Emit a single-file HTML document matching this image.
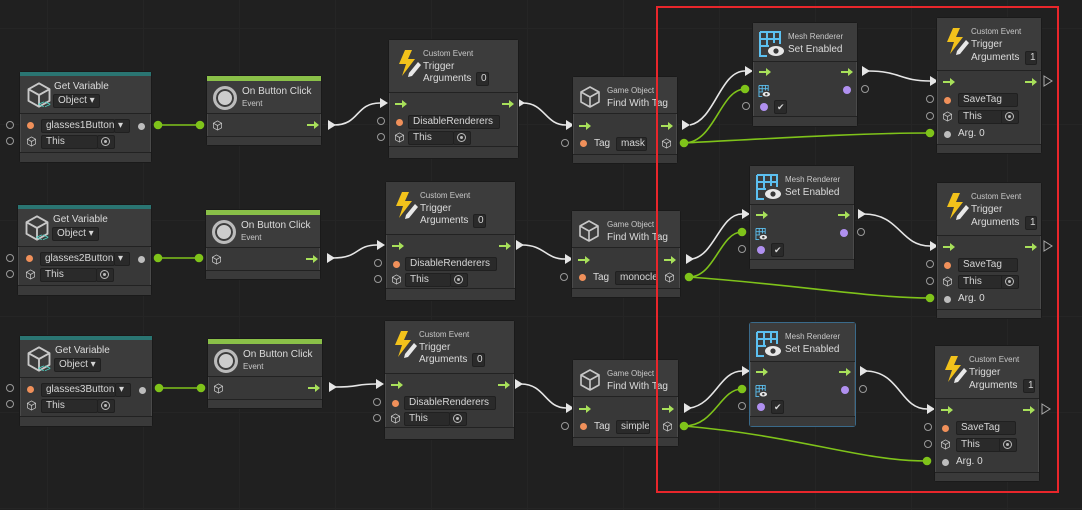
<!DOCTYPE html>
<html><head><meta charset="utf-8">
<style>
*{margin:0;padding:0;box-sizing:border-box}
body{width:1082px;height:510px;overflow:hidden;background:#202020;font-family:"Liberation Sans",sans-serif;color:#d2d2d2;position:relative;
background-image:linear-gradient(#252525 1px,transparent 1px),linear-gradient(90deg,#252525 1px,transparent 1px);background-size:96px 96px;background-position:47px 28px}
.n{position:absolute;background:#383838;border:1px solid #1a1a1a;border-radius:3px;box-shadow:0 0 0 1px #4a4a4a inset}
.n *{position:absolute}
.hd{left:0;right:0;top:0;background:#3c3c3c;border-bottom:1px solid #222}
.ft{left:0;right:0;bottom:0;background:#3a3a3a;border-top:1px solid #222}
.bar{left:0;right:0;top:0}
.t8{font-size:8px;color:#c8c8c8;white-space:nowrap}
.t10{font-size:10px;color:#dcdcdc;white-space:nowrap}
.f{background:#2a2a2a;border:1px solid #202020;font-size:10px;color:#d6d6d6;height:14px;line-height:12px;padding-left:4px;white-space:nowrap;overflow:hidden;border-radius:2px}
.od{width:7px;height:7px;border-radius:50%;background:#f0905a}
.gd{width:7px;height:7px;border-radius:50%;background:#bdbdbd}
.pd{width:8px;height:8px;border-radius:50%;background:#b090f0}
.ho{position:absolute;width:8px;height:8px;border-radius:50%;border:1px solid #999}
.ar{width:12px;height:8px}
.tg{width:9px;height:9px;border:1px solid #bbb;border-radius:50%}
.tg:after{content:"";position:absolute;left:2px;top:2px;width:3px;height:3px;border-radius:50%;background:#bbb}
.red{position:absolute;left:656px;top:6px;width:403px;height:487px;border:2px solid #e8262b}
</style></head><body>
<svg width="0" height="0" style="position:absolute">
<defs>
<symbol id="cube" viewBox="0 0 24 24"><path d="M12 2 L21 7 L21 17 L12 22 L3 17 L3 7 Z M3 7 L12 12 L21 7 M12 12 L12 22" fill="none" stroke="#c8c8c8" stroke-width="1.6" stroke-linejoin="round"/></symbol>
<symbol id="arr" viewBox="0 0 12 8"><path d="M0 3 H7 V0 L12 4 L7 8 V5 H0 Z" fill="#a8e05a"/></symbol>
<symbol id="bolt" viewBox="0 0 26 28"><path d="M9 1 L3 15 L10 15 L6 27 L19 10 L12 10 L16 1 Z" fill="#f2c21b"/><path d="M13 24 L22 13 L25 16 L16 27 L12 28 Z" fill="#e8e8e8"/></symbol>
<symbol id="mesh" viewBox="0 0 26 26"><path d="M1 1 H21 V13 M1 1 V25 H8 M1 8 H21 M1 15 H10 M8 1 V15 M15 1 V12" fill="none" stroke="#5cc0f0" stroke-width="2"/><ellipse cx="17" cy="20" rx="8" ry="5" fill="#e8e8e8"/><circle cx="17" cy="20" r="2.6" fill="#383838"/></symbol>
</defs></svg>

<svg width="1082" height="510" style="position:absolute;left:0;top:0" fill="none">
<g stroke="#7fc31a" stroke-width="1.6">
<path d="M158 125 H200"/><circle cx="158" cy="125" r="3.5" fill="#7fc31a"/><circle cx="200" cy="125" r="3.5" fill="#7fc31a"/>
<path d="M158 258 H199"/><circle cx="158" cy="258" r="3.5" fill="#7fc31a"/><circle cx="199" cy="258" r="3.5" fill="#7fc31a"/>
<path d="M159 388 H201"/><circle cx="159" cy="388" r="3.5" fill="#7fc31a"/><circle cx="201" cy="388" r="3.5" fill="#7fc31a"/>
<path d="M684 143 C715 143,720 89,745 89"/><path d="M684 143 C780 138,860 133,930 133"/>
<circle cx="684" cy="143" r="3.5" fill="#7fc31a"/><circle cx="745" cy="89" r="3.5" fill="#7fc31a"/><circle cx="930" cy="133" r="3.5" fill="#7fc31a"/>
<path d="M689 277 C715 277,720 232,742 232"/><path d="M689 277 C800 285,870 298,930 298"/>
<circle cx="689" cy="277" r="3.5" fill="#7fc31a"/><circle cx="742" cy="232" r="3.5" fill="#7fc31a"/><circle cx="930" cy="298" r="3.5" fill="#7fc31a"/>
<path d="M684 426 C715 426,720 389,742 389"/><path d="M684 426 C800 436,860 461,927 461"/>
<circle cx="684" cy="426" r="3.5" fill="#7fc31a"/><circle cx="742" cy="389" r="3.5" fill="#7fc31a"/><circle cx="927" cy="461" r="3.5" fill="#7fc31a"/>
</g>
<g stroke="#e6e6e6" stroke-width="1.6">
<path d="M334 125 C360 125,355 103,380 103"/><path d="M523 103 C545 103,545 125,566 125"/>
<path d="M690 125 C715 120,720 71,745 71"/><path d="M868 71 C900 71,900 81,930 81"/>
<path d="M333 258 C360 258,355 245,377 245"/><path d="M522 245 C545 245,545 259,565 259"/>
<path d="M692 259 C715 255,720 214,742 214"/><path d="M864 214 C900 214,900 246,930 246"/>
<path d="M335 387 C360 387,355 384,376 384"/><path d="M521 384 C545 384,545 408,566 408"/>
<path d="M690 408 C715 404,720 371,742 371"/><path d="M865 371 C900 371,900 409,927 409"/>
</g>
<g fill="#e6e6e6">
<path d="M328 120 L336 125 L328 130Z"/><path d="M380 98 L388 103 L380 108Z"/><path d="M517 98 L525 103 L517 108Z"/><path d="M566 120 L574 125 L566 130Z"/><path d="M682 120 L690 125 L682 130Z"/><path d="M745 66 L753 71 L745 76Z"/><path d="M862 66 L870 71 L862 76Z"/><path d="M930 76 L938 81 L930 86Z"/>
<path d="M327 253 L335 258 L327 263Z"/><path d="M377 240 L385 245 L377 250Z"/><path d="M516 240 L524 245 L516 250Z"/><path d="M565 254 L573 259 L565 264Z"/><path d="M686 254 L694 259 L686 264Z"/><path d="M742 209 L750 214 L742 219Z"/><path d="M858 209 L866 214 L858 219Z"/><path d="M930 241 L938 246 L930 251Z"/>
<path d="M329 382 L337 387 L329 392Z"/><path d="M376 379 L384 384 L376 389Z"/><path d="M515 379 L523 384 L515 389Z"/><path d="M566 403 L574 408 L566 413Z"/><path d="M684 403 L692 408 L684 413Z"/><path d="M742 366 L750 371 L742 376Z"/><path d="M860 366 L868 371 L860 376Z"/><path d="M927 404 L935 409 L927 414Z"/>
</g>
<g stroke="#aaa" stroke-width="1"><path d="M1044 76 L1052 81 L1044 86Z"/><path d="M1044 241 L1052 246 L1044 251Z"/><path d="M1042 404 L1050 409 L1042 414Z"/></g>
</svg>

<div class="ho" style="left:6px;top:121px"></div><div class="ho" style="left:6px;top:137px"></div>
<div class="ho" style="left:6px;top:254px"></div><div class="ho" style="left:6px;top:270px"></div>
<div class="ho" style="left:6px;top:384px"></div><div class="ho" style="left:6px;top:400px"></div>
<div class="ho" style="left:377px;top:117px"></div><div class="ho" style="left:377px;top:133px"></div>
<div class="ho" style="left:374px;top:259px"></div><div class="ho" style="left:374px;top:275px"></div>
<div class="ho" style="left:373px;top:398px"></div><div class="ho" style="left:373px;top:414px"></div>
<div class="ho" style="left:561px;top:139px"></div><div class="ho" style="left:560px;top:273px"></div><div class="ho" style="left:561px;top:422px"></div>
<div class="ho" style="left:742px;top:102px"></div><div class="ho" style="left:738px;top:245px"></div><div class="ho" style="left:738px;top:402px"></div>
<div class="ho" style="left:861px;top:85px"></div><div class="ho" style="left:857px;top:228px"></div><div class="ho" style="left:859px;top:385px"></div>
<div class="ho" style="left:926px;top:95px"></div><div class="ho" style="left:926px;top:112px"></div>
<div class="ho" style="left:926px;top:260px"></div><div class="ho" style="left:926px;top:277px"></div>
<div class="ho" style="left:924px;top:423px"></div><div class="ho" style="left:924px;top:440px"></div>

<!-- ROW 1 -->
<div class="n" style="left:19px;top:71px;width:133px;height:92px">
<div class="hd" style="height:42px"></div><div class="bar" style="height:4px;background:#2a7572"></div>
<svg style="left:5px;top:8px" width="28" height="30"><use href="#cube"/><text x="13" y="28" fill="#4fd6c8" font-size="11" font-family="Liberation Sans">&lt;&gt;</text></svg>
<div class="t10" style="left:34px;top:9px">Get Variable</div><div class="f" style="left:33px;top:22px;width:47px">Object ▾</div>
<div class="od" style="left:7px;top:50px"></div><div class="f" style="left:21px;top:47px;width:74px">glasses1Button</div><div class="f" style="left:94px;top:47px;width:16px;padding-left:3px">▾</div><div class="gd" style="left:118px;top:51px"></div>
<svg style="left:6px;top:64px" width="11" height="11"><use href="#cube"/></svg><div class="f" style="left:21px;top:63px;width:57px">This</div><div class="f" style="left:77px;top:63px;width:18px"></div><div class="tg" style="left:81px;top:65px"></div>
<div class="ft" style="height:10px"></div></div>

<div class="n" style="left:206px;top:75px;width:116px;height:71px">
<div class="hd" style="height:38px"></div><div class="bar" style="height:5px;background:#8ac048"></div>
<div style="left:6px;top:10px;width:24px;height:24px;border-radius:50%;border:3px solid #bbb;background:#ccc;box-shadow:inset 0 0 0 2px #3c3c3c"></div>
<div class="t10" style="left:35px;top:10px">On Button Click</div><div class="t8" style="left:35px;top:23px">Event</div>
<svg style="left:5px;top:44px" width="11" height="11"><use href="#cube"/></svg><svg class="ar" style="left:100px;top:45px"><use href="#arr"/></svg>
<div class="ft" style="height:9px"></div></div>

<div class="n" style="left:388px;top:39px;width:131px;height:120px">
<div class="hd" style="height:53px"></div>
<svg style="left:7px;top:9px" width="26" height="28"><use href="#bolt"/></svg>
<div class="t8" style="left:34px;top:9px">Custom Event</div><div class="t10" style="left:34px;top:21px">Trigger</div><div class="t10" style="left:34px;top:33px">Arguments</div><div class="f" style="left:87px;top:32px;width:13px">0</div>
<svg class="ar" style="left:6px;top:60px"><use href="#arr"/></svg><svg class="ar" style="left:113px;top:60px"><use href="#arr"/></svg>
<div class="od" style="left:7px;top:79px"></div><div class="f" style="left:19px;top:75px;width:92px">DisableRenderers</div>
<svg style="left:5px;top:92px" width="11" height="11"><use href="#cube"/></svg><div class="f" style="left:19px;top:91px;width:46px">This</div><div class="f" style="left:64px;top:91px;width:18px"></div><div class="tg" style="left:68px;top:93px"></div>
<div class="ft" style="height:12px"></div></div>

<div class="n" style="left:572px;top:76px;width:106px;height:88px">
<div class="hd" style="height:37px"></div>
<svg style="left:5px;top:8px" width="24" height="24"><use href="#cube"/></svg>
<div class="t8" style="left:34px;top:9px">Game Object</div><div class="t10" style="left:34px;top:21px">Find With Tag</div>
<svg class="ar" style="left:6px;top:45px"><use href="#arr"/></svg><svg class="ar" style="left:88px;top:45px"><use href="#arr"/></svg>
<div class="od" style="left:7px;top:63px"></div><div class="t10" style="left:21px;top:61px">Tag</div><div class="f" style="left:43px;top:60px;width:31px">mask</div>
<svg style="left:88px;top:61px" width="11" height="11"><use href="#cube"/></svg>
<div class="ft" style="height:9px"></div></div>

<div class="n" style="left:752px;top:22px;width:106px;height:105px">
<div class="hd" style="height:39px"></div>
<svg style="left:6px;top:8px" width="26" height="26"><use href="#mesh"/></svg>
<div class="t8" style="left:35px;top:9px">Mesh Renderer</div><div class="t10" style="left:35px;top:21px">Set Enabled</div>
<svg class="ar" style="left:6px;top:45px"><use href="#arr"/></svg><svg class="ar" style="left:88px;top:45px"><use href="#arr"/></svg>
<svg style="left:5px;top:62px" width="13" height="12"><use href="#mesh"/></svg><div class="pd" style="left:90px;top:63px"></div>
<div class="pd" style="left:7px;top:80px"></div><div class="f" style="left:21px;top:77px;width:13px;padding-left:2px;font-size:9px">✔</div>
<div class="ft" style="height:10px"></div></div>

<div class="n" style="left:936px;top:17px;width:106px;height:137px">
<div class="hd" style="height:53px"></div>
<svg style="left:7px;top:9px" width="26" height="28"><use href="#bolt"/></svg>
<div class="t8" style="left:34px;top:9px">Custom Event</div><div class="t10" style="left:34px;top:21px">Trigger</div><div class="t10" style="left:34px;top:34px">Arguments</div><div class="f" style="left:88px;top:33px;width:12px">1</div>
<svg class="ar" style="left:6px;top:60px"><use href="#arr"/></svg><svg class="ar" style="left:88px;top:60px"><use href="#arr"/></svg>
<div class="od" style="left:7px;top:79px"></div><div class="f" style="left:21px;top:75px;width:60px">SaveTag</div>
<svg style="left:5px;top:93px" width="11" height="11"><use href="#cube"/></svg><div class="f" style="left:21px;top:92px;width:45px">This</div><div class="f" style="left:64px;top:92px;width:18px"></div><div class="tg" style="left:68px;top:94px"></div>
<div class="gd" style="left:7px;top:113px"></div><div class="t10" style="left:21px;top:110px">Arg. 0</div>
<div class="ft" style="height:9px"></div></div>

<!-- ROW 2 -->
<div class="n" style="left:17px;top:204px;width:135px;height:92px">
<div class="hd" style="height:42px"></div><div class="bar" style="height:4px;background:#2a7572"></div>
<svg style="left:5px;top:8px" width="28" height="30"><use href="#cube"/><text x="13" y="28" fill="#4fd6c8" font-size="11" font-family="Liberation Sans">&lt;&gt;</text></svg>
<div class="t10" style="left:35px;top:9px">Get Variable</div><div class="f" style="left:34px;top:22px;width:47px">Object ▾</div>
<div class="od" style="left:8px;top:50px"></div><div class="f" style="left:22px;top:47px;width:75px">glasses2Button</div><div class="f" style="left:96px;top:47px;width:16px;padding-left:3px">▾</div><div class="gd" style="left:120px;top:51px"></div>
<svg style="left:7px;top:64px" width="11" height="11"><use href="#cube"/></svg><div class="f" style="left:22px;top:63px;width:57px">This</div><div class="f" style="left:78px;top:63px;width:18px"></div><div class="tg" style="left:82px;top:65px"></div>
<div class="ft" style="height:10px"></div></div>

<div class="n" style="left:205px;top:209px;width:116px;height:71px">
<div class="hd" style="height:38px"></div><div class="bar" style="height:5px;background:#8ac048"></div>
<div style="left:6px;top:10px;width:24px;height:24px;border-radius:50%;border:3px solid #bbb;background:#ccc;box-shadow:inset 0 0 0 2px #3c3c3c"></div>
<div class="t10" style="left:35px;top:10px">On Button Click</div><div class="t8" style="left:35px;top:23px">Event</div>
<svg style="left:5px;top:44px" width="11" height="11"><use href="#cube"/></svg><svg class="ar" style="left:100px;top:45px"><use href="#arr"/></svg>
<div class="ft" style="height:9px"></div></div>

<div class="n" style="left:385px;top:181px;width:131px;height:120px">
<div class="hd" style="height:53px"></div>
<svg style="left:7px;top:9px" width="26" height="28"><use href="#bolt"/></svg>
<div class="t8" style="left:34px;top:9px">Custom Event</div><div class="t10" style="left:34px;top:21px">Trigger</div><div class="t10" style="left:34px;top:33px">Arguments</div><div class="f" style="left:87px;top:32px;width:13px">0</div>
<svg class="ar" style="left:6px;top:60px"><use href="#arr"/></svg><svg class="ar" style="left:113px;top:60px"><use href="#arr"/></svg>
<div class="od" style="left:7px;top:79px"></div><div class="f" style="left:19px;top:75px;width:92px">DisableRenderers</div>
<svg style="left:5px;top:92px" width="11" height="11"><use href="#cube"/></svg><div class="f" style="left:19px;top:91px;width:46px">This</div><div class="f" style="left:64px;top:91px;width:18px"></div><div class="tg" style="left:68px;top:93px"></div>
<div class="ft" style="height:12px"></div></div>

<div class="n" style="left:571px;top:210px;width:110px;height:88px">
<div class="hd" style="height:37px"></div>
<svg style="left:5px;top:8px" width="24" height="24"><use href="#cube"/></svg>
<div class="t8" style="left:35px;top:9px">Game Object</div><div class="t10" style="left:35px;top:21px">Find With Tag</div>
<svg class="ar" style="left:6px;top:45px"><use href="#arr"/></svg><svg class="ar" style="left:92px;top:45px"><use href="#arr"/></svg>
<div class="od" style="left:7px;top:63px"></div><div class="t10" style="left:21px;top:61px">Tag</div><div class="f" style="left:43px;top:60px;width:43px">monocle</div>
<svg style="left:92px;top:61px" width="11" height="11"><use href="#cube"/></svg>
<div class="ft" style="height:9px"></div></div>

<div class="n" style="left:749px;top:165px;width:106px;height:105px">
<div class="hd" style="height:39px"></div>
<svg style="left:6px;top:8px" width="26" height="26"><use href="#mesh"/></svg>
<div class="t8" style="left:35px;top:9px">Mesh Renderer</div><div class="t10" style="left:35px;top:21px">Set Enabled</div>
<svg class="ar" style="left:6px;top:45px"><use href="#arr"/></svg><svg class="ar" style="left:88px;top:45px"><use href="#arr"/></svg>
<svg style="left:5px;top:62px" width="13" height="12"><use href="#mesh"/></svg><div class="pd" style="left:90px;top:63px"></div>
<div class="pd" style="left:7px;top:80px"></div><div class="f" style="left:21px;top:77px;width:13px;padding-left:2px;font-size:9px">✔</div>
<div class="ft" style="height:10px"></div></div>

<div class="n" style="left:936px;top:182px;width:106px;height:137px">
<div class="hd" style="height:53px"></div>
<svg style="left:7px;top:9px" width="26" height="28"><use href="#bolt"/></svg>
<div class="t8" style="left:34px;top:9px">Custom Event</div><div class="t10" style="left:34px;top:21px">Trigger</div><div class="t10" style="left:34px;top:34px">Arguments</div><div class="f" style="left:88px;top:33px;width:12px">1</div>
<svg class="ar" style="left:6px;top:60px"><use href="#arr"/></svg><svg class="ar" style="left:88px;top:60px"><use href="#arr"/></svg>
<div class="od" style="left:7px;top:79px"></div><div class="f" style="left:21px;top:75px;width:60px">SaveTag</div>
<svg style="left:5px;top:93px" width="11" height="11"><use href="#cube"/></svg><div class="f" style="left:21px;top:92px;width:45px">This</div><div class="f" style="left:64px;top:92px;width:18px"></div><div class="tg" style="left:68px;top:94px"></div>
<div class="gd" style="left:7px;top:113px"></div><div class="t10" style="left:21px;top:110px">Arg. 0</div>
<div class="ft" style="height:9px"></div></div>

<!-- ROW 3 -->
<div class="n" style="left:19px;top:335px;width:134px;height:92px">
<div class="hd" style="height:42px"></div><div class="bar" style="height:4px;background:#2a7572"></div>
<svg style="left:5px;top:8px" width="28" height="30"><use href="#cube"/><text x="13" y="28" fill="#4fd6c8" font-size="11" font-family="Liberation Sans">&lt;&gt;</text></svg>
<div class="t10" style="left:35px;top:9px">Get Variable</div><div class="f" style="left:34px;top:22px;width:47px">Object ▾</div>
<div class="od" style="left:7px;top:50px"></div><div class="f" style="left:21px;top:47px;width:75px">glasses3Button</div><div class="f" style="left:95px;top:47px;width:16px;padding-left:3px">▾</div><div class="gd" style="left:119px;top:51px"></div>
<svg style="left:6px;top:64px" width="11" height="11"><use href="#cube"/></svg><div class="f" style="left:21px;top:63px;width:57px">This</div><div class="f" style="left:77px;top:63px;width:18px"></div><div class="tg" style="left:81px;top:65px"></div>
<div class="ft" style="height:10px"></div></div>

<div class="n" style="left:207px;top:338px;width:116px;height:71px">
<div class="hd" style="height:38px"></div><div class="bar" style="height:5px;background:#8ac048"></div>
<div style="left:6px;top:10px;width:24px;height:24px;border-radius:50%;border:3px solid #bbb;background:#ccc;box-shadow:inset 0 0 0 2px #3c3c3c"></div>
<div class="t10" style="left:35px;top:10px">On Button Click</div><div class="t8" style="left:35px;top:23px">Event</div>
<svg style="left:5px;top:44px" width="11" height="11"><use href="#cube"/></svg><svg class="ar" style="left:100px;top:45px"><use href="#arr"/></svg>
<div class="ft" style="height:9px"></div></div>

<div class="n" style="left:384px;top:320px;width:131px;height:120px">
<div class="hd" style="height:53px"></div>
<svg style="left:7px;top:9px" width="26" height="28"><use href="#bolt"/></svg>
<div class="t8" style="left:34px;top:9px">Custom Event</div><div class="t10" style="left:34px;top:21px">Trigger</div><div class="t10" style="left:34px;top:33px">Arguments</div><div class="f" style="left:87px;top:32px;width:13px">0</div>
<svg class="ar" style="left:6px;top:60px"><use href="#arr"/></svg><svg class="ar" style="left:113px;top:60px"><use href="#arr"/></svg>
<div class="od" style="left:7px;top:79px"></div><div class="f" style="left:19px;top:75px;width:92px">DisableRenderers</div>
<svg style="left:5px;top:92px" width="11" height="11"><use href="#cube"/></svg><div class="f" style="left:19px;top:91px;width:46px">This</div><div class="f" style="left:64px;top:91px;width:18px"></div><div class="tg" style="left:68px;top:93px"></div>
<div class="ft" style="height:12px"></div></div>

<div class="n" style="left:572px;top:359px;width:107px;height:88px">
<div class="hd" style="height:37px"></div>
<svg style="left:5px;top:8px" width="24" height="24"><use href="#cube"/></svg>
<div class="t8" style="left:34px;top:9px">Game Object</div><div class="t10" style="left:34px;top:21px">Find With Tag</div>
<svg class="ar" style="left:6px;top:45px"><use href="#arr"/></svg><svg class="ar" style="left:89px;top:45px"><use href="#arr"/></svg>
<div class="od" style="left:7px;top:63px"></div><div class="t10" style="left:21px;top:61px">Tag</div><div class="f" style="left:43px;top:60px;width:34px">simple</div>
<svg style="left:89px;top:61px" width="11" height="11"><use href="#cube"/></svg>
<div class="ft" style="height:9px"></div></div>

<div class="n" style="left:749px;top:322px;width:107px;height:105px;border-color:#3a6a8a">
<div class="hd" style="height:39px"></div>
<svg style="left:6px;top:8px" width="26" height="26"><use href="#mesh"/></svg>
<div class="t8" style="left:35px;top:9px">Mesh Renderer</div><div class="t10" style="left:35px;top:21px">Set Enabled</div>
<svg class="ar" style="left:6px;top:45px"><use href="#arr"/></svg><svg class="ar" style="left:89px;top:45px"><use href="#arr"/></svg>
<svg style="left:5px;top:62px" width="13" height="12"><use href="#mesh"/></svg><div class="pd" style="left:91px;top:63px"></div>
<div class="pd" style="left:7px;top:80px"></div><div class="f" style="left:21px;top:77px;width:13px;padding-left:2px;font-size:9px">✔</div>
<div class="ft" style="height:10px"></div></div>

<div class="n" style="left:934px;top:345px;width:106px;height:137px">
<div class="hd" style="height:53px"></div>
<svg style="left:7px;top:9px" width="26" height="28"><use href="#bolt"/></svg>
<div class="t8" style="left:34px;top:9px">Custom Event</div><div class="t10" style="left:34px;top:21px">Trigger</div><div class="t10" style="left:34px;top:34px">Arguments</div><div class="f" style="left:88px;top:33px;width:12px">1</div>
<svg class="ar" style="left:6px;top:60px"><use href="#arr"/></svg><svg class="ar" style="left:88px;top:60px"><use href="#arr"/></svg>
<div class="od" style="left:7px;top:79px"></div><div class="f" style="left:21px;top:75px;width:60px">SaveTag</div>
<svg style="left:5px;top:93px" width="11" height="11"><use href="#cube"/></svg><div class="f" style="left:21px;top:92px;width:45px">This</div><div class="f" style="left:64px;top:92px;width:18px"></div><div class="tg" style="left:68px;top:94px"></div>
<div class="gd" style="left:7px;top:113px"></div><div class="t10" style="left:21px;top:110px">Arg. 0</div>
<div class="ft" style="height:9px"></div></div>

<div class="red"></div>
</body></html>
